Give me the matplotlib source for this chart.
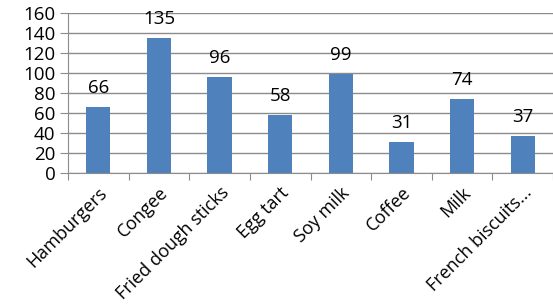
import matplotlib.pyplot as plt

categories = ["Hamburgers", "Congee", "Fried dough sticks", "Egg tart",
              "Soy milk", "Coffee", "Milk", "French biscuits..."]
values = [66, 135, 96, 58, 99, 31, 74, 37]
yticks = [0, 20, 40, 60, 80, 100, 120, 140, 160]

plt.rcParams['font.family'] = ['Open Sans', 'DejaVu Sans']
fs = 13.5

fig = plt.figure(figsize=(5.53, 3.05), dpi=100)
ax = fig.add_axes([68 / 553, 1 - 172.7 / 305, (553 - 68) / 553, 160 / 305])

x = list(range(len(categories)))
ax.bar(x, values, width=0.4, color='#4F81BD', zorder=3)

for xi, v in zip(x, values):
    ax.annotate(str(v), (xi, v), xytext=(0, 9.8), textcoords='offset points',
                ha='center', va='baseline', fontsize=fs, color='black')

ax.set_xlim(-0.5, len(categories) - 0.5)
ax.set_ylim(0, 160)
ax.set_yticks(yticks)
ax.set_yticklabels([str(t) for t in yticks], fontsize=fs)
ax.yaxis.grid(True, color='#8c8c8c', linewidth=1, zorder=0)

# category boundaries get the tick marks, names sit on the centres
ax.set_xticks([i - 0.5 for i in range(len(categories) + 1)])
ax.set_xticklabels([])
ax.set_xticks(x, minor=True)
ax.set_xticklabels(categories, minor=True, rotation=45, ha='right',
                   rotation_mode='anchor', fontsize=13.0)
ax.tick_params(axis='x', which='minor', length=0, pad=8)
ax.tick_params(axis='x', which='major', length=5, color='#8c8c8c', direction='out')
ax.tick_params(axis='y', length=6, color='#8c8c8c', pad=3)

for side in ['top', 'right']:
    ax.spines[side].set_visible(False)
ax.spines['left'].set_color('#8c8c8c')
ax.spines['bottom'].set_color('#8c8c8c')

fig.savefig('out.png', dpi=100)
